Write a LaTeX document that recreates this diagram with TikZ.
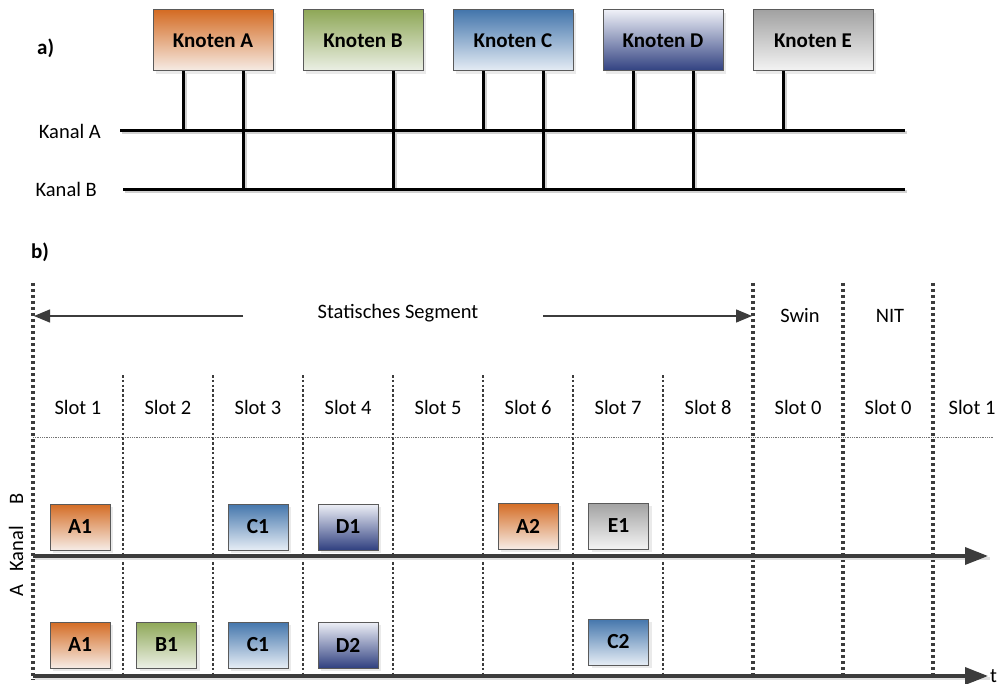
\documentclass[tikz,border=0pt]{standalone}
\usepackage{fontspec}
\setmainfont{Carlito}
\usetikzlibrary{shadows,arrows.meta}

\definecolor{orTop}{RGB}{212,108,36}
\definecolor{orBot}{RGB}{246,236,230}
\definecolor{grTop}{RGB}{143,168,88}
\definecolor{grBot}{RGB}{236,240,230}
\definecolor{blTop}{RGB}{68,118,172}
\definecolor{blBot}{RGB}{230,237,245}
\definecolor{dbTop}{RGB}{238,240,247}
\definecolor{dbBot}{RGB}{48,64,128}
\definecolor{gyTop}{RGB}{162,162,162}
\definecolor{gyBot}{RGB}{244,244,244}
\definecolor{boxline}{RGB}{90,90,90}
\definecolor{ink}{RGB}{60,60,60}

\tikzset{
  txt/.style={font=\fontsize{20.5}{24}\selectfont, inner sep=0pt},
  boldtxt/.style={font=\fontsize{21}{24}\selectfont\bfseries, inner sep=0pt},
  box/.style={draw=boxline, line width=1pt, inner sep=0pt,
    drop shadow={shadow xshift=3pt, shadow yshift=-3pt, fill=black!16}},
  knoten/.style={box, minimum width=120pt, minimum height=61pt,
    font=\fontsize{21}{24}\selectfont\bfseries},
  msg/.style={box, minimum width=60pt, minimum height=46pt,
    font=\fontsize{21.5}{24}\selectfont\bfseries},
  orange/.style={top color=orTop, bottom color=orBot},
  green/.style={top color=grTop, bottom color=grBot},
  blue/.style={top color=blTop, bottom color=blBot},
  darkblue/.style={top color=dbTop, bottom color=dbBot},
  grey/.style={top color=gyTop, bottom color=gyBot},
  bus/.style={line width=3pt, black},
  thickdot/.style={ink, line width=3.2pt, dash pattern=on 3.4pt off 2.6pt},
  thindot/.style={ink, line width=2pt, dash pattern=on 2.6pt off 2.2pt},
  segarrow/.style={ink, line width=1.4pt, -{Triangle[length=16pt,width=13pt]}},
  axis/.style={ink, line width=3.5pt, -{Triangle[length=23pt,width=17pt]}},
}

% bus network of part a), drawn once as shadow and once in black
\newcommand\drawbusnet[1]{%
  \draw[#1] (kaL) -- (kaR);
  \draw[#1] (kbL) -- (kbR);
  \draw[#1] (tA1 |- nA.south) -- (tA1);
  \draw[#1] (tA2 |- nA.south) -- (tA2);
  \draw[#1] (tB2 |- nB.south) -- (tB2);
  \draw[#1] (tC1 |- nC.south) -- (tC1);
  \draw[#1] (tC2 |- nC.south) -- (tC2);
  \draw[#1] (tD1 |- nD.south) -- (tD1);
  \draw[#1] (tD2 |- nD.south) -- (tD2);
  \draw[#1] (tE1 |- nE.south) -- (tE1);
}

\begin{document}
\begin{tikzpicture}[x=1pt,y=-1pt]
\useasboundingbox[fill=white] (0,0) rectangle (1003,684);

% ---------------- a) topology ----------------
\node[boldtxt, anchor=west] (la) at (37,48) {a)};

\coordinate (kaL) at (120,131);
\coordinate (kaR) at (905,131);
\coordinate (kbL) at (123,190);
\coordinate (kbR) at (905,190);
\coordinate (tA1) at (183,131);
\coordinate (tA2) at (243,190);
\coordinate (tB2) at (393,190);
\coordinate (tC1) at (483,131);
\coordinate (tC2) at (543,190);
\coordinate (tD1) at (633,131);
\coordinate (tD2) at (693,190);
\coordinate (tE1) at (783,131);

\node[txt, anchor=east] (lka) at (101,131) {Kanal A};
\node[txt, anchor=east] (lkb) at (97,189) {Kanal B};

\node[knoten, orange]   (nA) at (213,40.5) {Knoten A};
\node[knoten, green]    (nB) at (363,40.5) {Knoten B};
\node[knoten, blue]     (nC) at (513,40.5) {Knoten C};
\node[knoten, darkblue] (nD) at (663,40.5) {Knoten D};
\node[knoten, grey]     (nE) at (813,40.5) {Knoten E};

\begin{scope}[transform canvas={xshift=2pt,yshift=-2pt}]
  \drawbusnet{line width=3pt, black!18}
\end{scope}
\drawbusnet{bus}

% ---------------- b) schedule ----------------
\node[boldtxt, anchor=west] (lb) at (31,252) {b)};

% cycle borders (thick dotted) and slot borders (thin dotted)
\foreach \x/\n in {33/c0, 753/c1, 843/c2, 933/c3} {
  \coordinate (\n t) at (\x,283);
  \coordinate (\n b) at (\x,680);
  \draw[thickdot] (\n t) -- (\n b);
}
\foreach \i in {1,...,7} {
  \coordinate (d\i t) at (33+90*\i,375);
  \coordinate (d\i b) at (33+90*\i,680);
  \draw[thindot] (d\i t) -- (d\i b);
}

% separator under the slot labels
\coordinate (hl0) at (33,437);
\coordinate (hl1) at (993,437);
\draw[black!55, line width=0.8pt, dash pattern=on 1pt off 0.8pt] (hl0) -- (hl1);

% static segment
\coordinate (sL) at (243,316);
\coordinate (sL0) at (34,316);
\coordinate (sR) at (543,316);
\coordinate (sR0) at (752,316);
\draw[segarrow] (sL) -- (sL0);
\draw[segarrow] (sR) -- (sR0);
\node[txt] (seg) at (398,313) {Statisches Segment};
\node[txt] (swin) at (800,316) {Swin};
\node[txt] (nit) at (890,316) {NIT};

% slot labels
\foreach \lab [count=\k from 0] in {Slot 1,Slot 2,Slot 3,Slot 4,Slot 5,Slot 6,Slot 7,Slot 8,Slot 0,Slot 0} {
  \node[txt] (s\k) at (78+90*\k,407) {\lab};
}
\node[txt] (s10) at (972,407) {Slot 1};

% channel axes
\coordinate (axB0) at (33,556);
\coordinate (axB1) at (988,556);
\coordinate (axA0) at (33,676);
\coordinate (axA1) at (988,676);
\begin{scope}[transform canvas={xshift=1.5pt,yshift=-2.5pt}]
  \draw[black!12, line width=3pt] (axB0) -- (axB1);
  \draw[black!12, line width=3pt] (axA0) -- (axA1);
\end{scope}
\draw[axis] (axB0) -- (axB1);
\draw[axis] (axA0) -- (axA1);
\node[txt, anchor=west] (tt) at (990,676) {t};

\node[txt, rotate=90] (kanal) at (16,545) {A\hspace{13pt}Kanal\hspace{21pt}B};

% frames on channel B
\node[msg, orange]   (bA1) at (80,527)  {A1};
\node[msg, blue]     (bC1) at (258,527) {C1};
\node[msg, darkblue] (bD1) at (348,527) {D1};
\node[msg, orange]   (bA2) at (528,526) {A2};
\node[msg, grey]     (bE1) at (618.5,526) {E1};

% frames on channel A
\node[msg, orange]   (aA1) at (80,645)  {A1};
\node[msg, green]    (aB1) at (166.5,645) {B1};
\node[msg, blue]     (aC1) at (258,645) {C1};
\node[msg, darkblue] (aD2) at (348,645) {D2};
\node[msg, blue]     (aC2) at (618.5,642) {C2};

\end{tikzpicture}
\end{document}
